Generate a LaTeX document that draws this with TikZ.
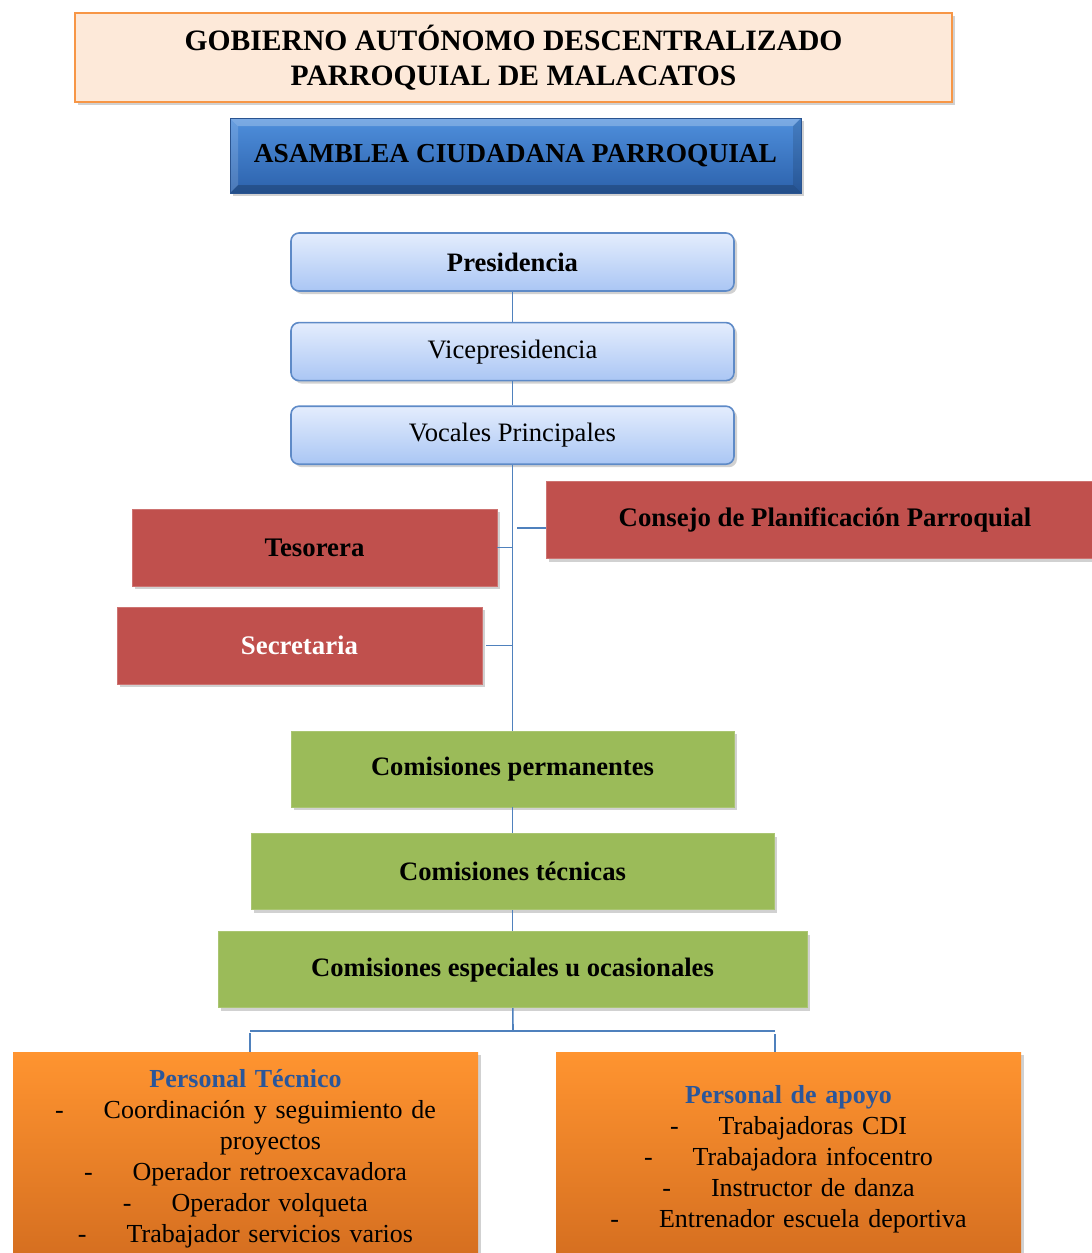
\documentclass[tikz,border=0pt]{standalone}
\usepackage{fontspec}
\setmainfont{Liberation Serif}
\usetikzlibrary{positioning,shadows,calc}

\definecolor{titlefill}{HTML}{FDE9D9}
\definecolor{titledraw}{HTML}{F79646}
\definecolor{asmtop}{HTML}{4F8FDC}
\definecolor{asmbot}{HTML}{2C62AC}
\definecolor{asmdraw}{HTML}{2A5490}
\definecolor{officetop}{HTML}{E4EDFD}
\definecolor{officebot}{HTML}{AAC6F4}
\definecolor{officedraw}{HTML}{5E8AC7}
\definecolor{redfill}{HTML}{C0504D}
\definecolor{greenfill}{HTML}{9BBB59}
\definecolor{orangetop}{HTML}{FF9430}
\definecolor{orangebot}{HTML}{D06A1E}
\definecolor{linkblue}{HTML}{4F81BD}
\definecolor{headblue}{HTML}{2A569A}

\newcommand{\staffitem}[1]{-\hspace{20pt}#1}

\begin{document}
\begin{tikzpicture}[
  x=0.5pt, y=-0.5pt,
  shadowed/.style={drop shadow={shadow xshift=1.5pt, shadow yshift=-1.5pt, opacity=0.3, fill=black!60}},
  titlebox/.style={draw=titledraw, line width=1pt, fill=titlefill, minimum width=438.5pt, minimum height=44.5pt, align=center, font=\fontsize{14.8}{17.5}\selectfont\bfseries, shadowed},
  assembly/.style={draw=asmdraw, line width=0.4pt, top color=asmtop, bottom color=asmbot, minimum width=285.5pt, minimum height=37.5pt, font=\fontsize{13.7}{16}\selectfont\bfseries, shadowed,
    path picture={
      \fill[white,opacity=0.25] (path picture bounding box.north west) -- (path picture bounding box.north east) -- ([xshift=-4pt,yshift=-4pt]path picture bounding box.north east) -- ([xshift=4pt,yshift=-4pt]path picture bounding box.north west) -- cycle;
      \fill[white,opacity=0.15] (path picture bounding box.north west) -- ([xshift=4pt,yshift=-4pt]path picture bounding box.north west) -- ([xshift=4pt,yshift=4pt]path picture bounding box.south west) -- (path picture bounding box.south west) -- cycle;
      \fill[black,opacity=0.2] (path picture bounding box.south west) -- (path picture bounding box.south east) -- ([xshift=-4pt,yshift=4pt]path picture bounding box.south east) -- ([xshift=4pt,yshift=4pt]path picture bounding box.south west) -- cycle;
      \fill[black,opacity=0.12] (path picture bounding box.north east) -- (path picture bounding box.south east) -- ([xshift=-4pt,yshift=4pt]path picture bounding box.south east) -- ([xshift=-4pt,yshift=-4pt]path picture bounding box.north east) -- cycle;
    }},
  officebox/.style={draw=officedraw, line width=0.8pt, rounded corners=4pt, top color=officetop, bottom color=officebot, minimum width=221.5pt, minimum height=29pt, font=\fontsize{13.3}{15}\selectfont, shadowed},
  redbox/.style={fill=redfill, draw=redfill!80!white, line width=0.4pt, minimum width=182.5pt, minimum height=38.5pt, font=\fontsize{13.4}{15}\selectfont\bfseries, shadowed},
  greenbox/.style={fill=greenfill, draw=greenfill!85!white, line width=0.4pt, minimum height=38pt, font=\fontsize{13.3}{15}\selectfont\bfseries, shadowed},
  staffbox/.style={top color=orangetop, bottom color=orangebot, minimum width=232.5pt, minimum height=115pt, anchor=north, shadowed},
  stafftext/.style={align=center, text width=230pt, inner sep=0pt, anchor=north, font=\fontsize{13}{15.5}\selectfont},
  link/.style={draw=linkblue, line width=0.8pt}
]
\useasboundingbox (0,0) rectangle (1092,1253);

% head of the structure
\node[titlebox] (gad) at (513.5,57.5) {GOBIERNO AUTÓNOMO DESCENTRALIZADO\\PARROQUIAL DE MALACATOS};
\node[assembly] (asamblea) at (515.5,155.5) {ASAMBLEA CIUDADANA PARROQUIAL};

% executive
\node[officebox, font=\fontsize{13.3}{15}\selectfont\bfseries] (pres) at (512.5,262) {Presidencia};
\node[officebox, below=15pt of pres] (vice) {Vicepresidencia};
\node[officebox, below=12pt of vice] (vocales) {Vocales Principales};

% staff offices
\node[redbox, minimum width=279pt] (consejo) at (825,520) {Consejo de Planificación Parroquial};
\node[redbox] (tesorera) at (314.5,547.5) {Tesorera};
\node[redbox, text=white] (secretaria) at (299.5,645.5) {Secretaria};

% commissions
\node[greenbox, minimum width=221.5pt] (permanentes) at (512.5,769) {Comisiones permanentes};
\node[greenbox, minimum width=261.5pt, below=13pt of permanentes] (tecnicas) {Comisiones técnicas};
\node[greenbox, minimum width=294.5pt, below=10.5pt of tecnicas] (especiales) {Comisiones especiales u ocasionales};

% staff
\node[staffbox] (tecnico) at (245.5,1052) {};
\node[staffbox] (apoyo) at (788.5,1052) {};
\node[stafftext] (tecnicotxt) at ([yshift=-8.5pt]tecnico.north) {{\color{headblue}\bfseries Personal Técnico}\\
  \staffitem{Coordinación y seguimiento de}\\
  \hspace*{25pt}proyectos\\
  \staffitem{Operador retroexcavadora}\\
  \staffitem{Operador volqueta}\\
  \staffitem{Trabajador servicios varios}};
\node[stafftext] (apoyotxt) at ([yshift=-16.5pt]apoyo.north) {{\color{headblue}\bfseries Personal de apoyo}\\
  \staffitem{Trabajadoras CDI}\\
  \staffitem{Trabajadora infocentro}\\
  \staffitem{Instructor de danza}\\
  \staffitem{Entrenador escuela deportiva}};

% connectors
\draw[link] (pres) -- (vice);
\draw[link] (vice) -- (vocales);
\draw[link] (vocales) -- (permanentes);
\draw[link] (permanentes) -- (tecnicas);
\draw[link] (tecnicas) -- (especiales);
\draw[link] (tesorera.east) -- (tesorera.east -| vocales.south);
\draw[link] ([xshift=2pt]secretaria.east) -- (secretaria.east -| vocales.south);
\draw[link] ($(consejo.west)+(0,-4pt)$) -- ($(consejo.west -| vocales.south)+(2pt,-4pt)$);
\coordinate (bus) at (513,1031);
\coordinate (busL) at (250,1031);
\coordinate (busR) at (775,1031);
\draw[link] (especiales) -- (bus);
\draw[link] (busL) -- (busR);
\draw[link] ([yshift=-1pt]busL) -- (busL |- tecnico.north);
\draw[link] ([yshift=-1.5pt]busR) -- (busR |- apoyo.north);
\end{tikzpicture}
\end{document}
